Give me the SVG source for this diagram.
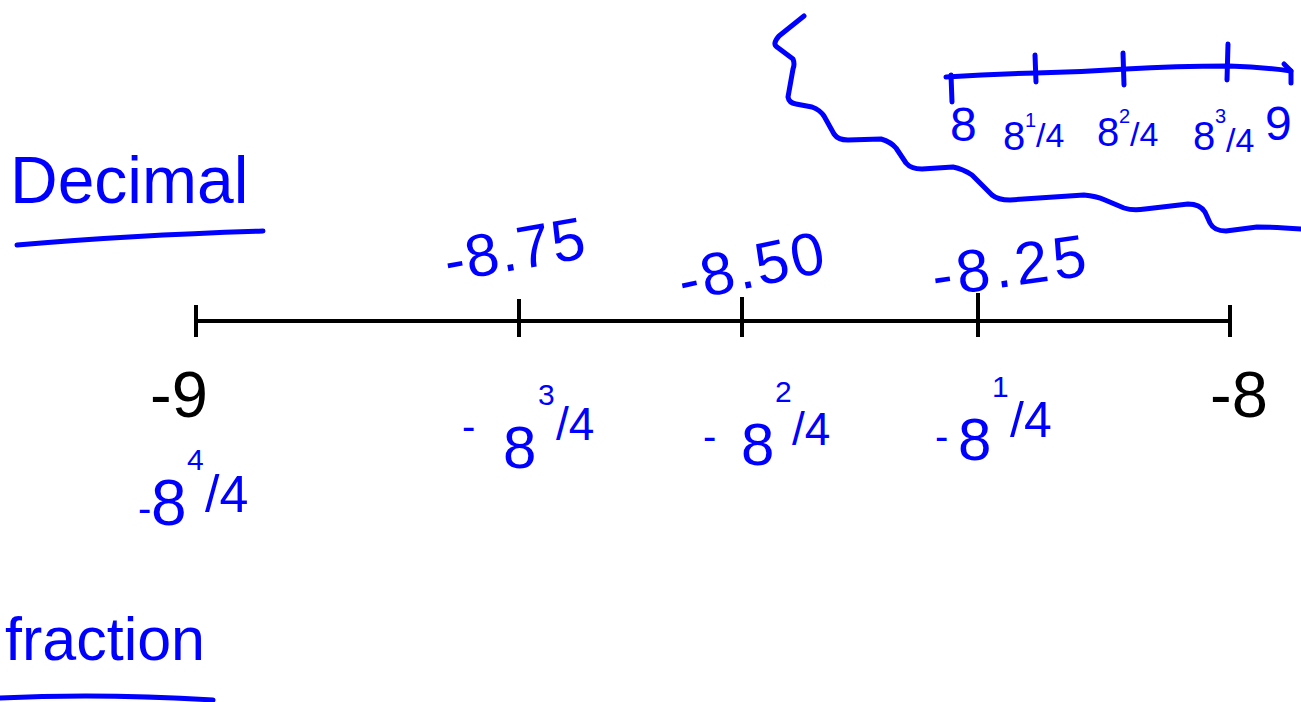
<svg xmlns="http://www.w3.org/2000/svg" width="1301" height="702" viewBox="0 0 1301 702">
<style>
.typed{font-family:"Liberation Sans",Arial,sans-serif;}
.blue{fill:#0000ff;}
.hw{font-family:"Liberation Sans",Arial,sans-serif;fill:#0000ff;}
.ink{fill:none;stroke:#0000ff;stroke-width:5;stroke-linecap:round;stroke-linejoin:round;}
.axis{fill:none;stroke:#000;stroke-width:4;stroke-linecap:butt;}
</style>
<rect width="1301" height="702" fill="#fff"/>

<g id="heading-decimal">
<text class="typed blue" x="10" y="203" font-size="66">Decimal</text>
<path class="ink" d="M17,245 Q133,235 263,231"/>
</g>

<g id="heading-fraction">
<text class="typed blue" x="5" y="660" font-size="61">fraction</text>
<path class="ink" d="M0,698 Q100,693 213,700"/>
</g>

<g id="number-line">
<path class="axis" d="M195,321 H1231"/>
<path class="axis" d="M196,305 V337 M519,299 V337 M742,297 V337 M978,293 V337 M1230,305 V337"/>
<text class="typed" x="150" y="417" font-size="65">-9</text>
<text class="typed" x="1210" y="417" font-size="65">-8</text>
</g>

<g id="decimal-labels">
<text class="hw" x="448" y="282" font-size="60" textLength="142" transform="rotate(-10 448 282)">-8.75</text>
<text class="hw" x="683" y="302" font-size="60" textLength="148" transform="rotate(-12 683 302)">-8.50</text>
<text class="hw" x="935" y="297" font-size="60" textLength="155" transform="rotate(-8 935 297)">-8.25</text>
</g>

<g id="fraction-labels">
<text class="hw"><tspan x="462" y="440" font-size="40">-</tspan><tspan x="503" y="468" font-size="60">8</tspan><tspan x="538" y="405" font-size="30">3</tspan><tspan x="556" y="440" font-size="46">/4</tspan></text>
<text class="hw"><tspan x="703" y="450" font-size="40">-</tspan><tspan x="741" y="465" font-size="60">8</tspan><tspan x="775" y="402" font-size="30">2</tspan><tspan x="792" y="445" font-size="46">/4</tspan></text>
<text class="hw"><tspan x="935" y="450" font-size="40">-</tspan><tspan x="958" y="460" font-size="60">8</tspan><tspan x="992" y="397" font-size="30">1</tspan><tspan x="1010" y="437" font-size="50">/4</tspan></text>
<text class="hw"><tspan x="138" y="522" font-size="40">-</tspan><tspan x="151" y="525" font-size="64">8</tspan><tspan x="187" y="470" font-size="30">4</tspan><tspan x="205" y="512" font-size="52">/4</tspan></text>
</g>

<g id="divider">
<path class="ink" d="M804,16 L779,36 Q772,44 777,47 L793,59 Q795,64 793,69 L788,97 Q789,103 796,104 L812,107 Q820,110 824,116 L834,134 Q838,140 848,140 L881,139 Q891,142 896,148 L906,163 Q911,169 922,169 L953,167 Q963,169 972,175 L992,195 Q998,200 1010,200 L1084,195 Q1096,196 1105,200 L1124,208 Q1133,211 1145,209 L1188,204 Q1200,204 1205,212 L1210,223 Q1214,231 1226,231 L1257,227 Q1275,227 1301,229"/>
</g>

<g id="mini-number-line">
<path class="ink" d="M946,77 Q990,74 1036,73 T1126,69 Q1175,66 1229,66 Q1262,67 1291,71"/>
<path class="ink" d="M1284,64 L1291,71 L1291,83"/>
<path class="ink" d="M951,75 L952,102 M1035,55 L1036,82 M1123,53 L1124,85 M1228,44 L1227,80"/>
<text class="hw" x="950" y="141" font-size="48">8</text>
<text class="hw"><tspan x="1003" y="150" font-size="40">8</tspan><tspan x="1025" y="127" font-size="20">1</tspan><tspan x="1036" y="147" font-size="34">/4</tspan></text>
<text class="hw"><tspan x="1097" y="146" font-size="40">8</tspan><tspan x="1119" y="123" font-size="20">2</tspan><tspan x="1130" y="146" font-size="34">/4</tspan></text>
<text class="hw"><tspan x="1193" y="150" font-size="40">8</tspan><tspan x="1215" y="123" font-size="20">3</tspan><tspan x="1226" y="152" font-size="34">/4</tspan></text>
<text class="hw" x="1265" y="140" font-size="48">9</text>
</g>
</svg>
